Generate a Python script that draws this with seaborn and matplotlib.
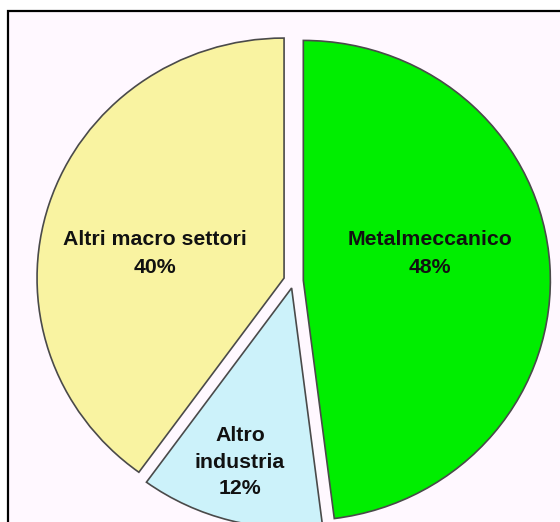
import matplotlib
matplotlib.use('Agg')
import matplotlib.pyplot as plt
import seaborn as sns
from matplotlib.patches import Rectangle

# data
sectors = ['Metalmeccanico', 'Altro\nindustria', 'Altri macro settori']
shares = [48, 12, 40]
colors = ['#00ee00', '#ccf2fa', '#f9f3a1']
explode = [0.04, 0.03, 0.04]

sns.set_theme(style='white')
plt.rcParams['font.family'] = ['Liberation Sans', 'DejaVu Sans']

fig = plt.figure(figsize=(5.6, 5.22), dpi=100)
fig.patch.set_facecolor('white')

# outer frame (cut by the right and bottom edges of the picture)
frame = Rectangle((8 / 560, -0.05), 1.2, (522 - 11) / 522 + 0.05,
                  transform=fig.transFigure, facecolor='#fff8ff',
                  edgecolor='black', linewidth=1.6, zorder=-1)
fig.add_artist(frame)

ax = fig.add_axes([0, 0, 1, 1])
ax.set_facecolor('none')

wedges, _ = ax.pie(shares, colors=colors, explode=explode, startangle=90,
                   counterclock=False,
                   wedgeprops=dict(edgecolor='#4a4a4a', linewidth=1.2))

ax.set_aspect('auto')
ax.set_xlim(-1.188, 1.079)
ax.set_ylim(-1.004, 1.171)
ax.axis('off')

# labels
label_pos = [(0.553, 0.113), (-0.217, -0.756), (-0.561, 0.116)]
spacing = [1.6, 1.5, 1.6]
for name, share, (x, y), ls in zip(sectors, shares, label_pos, spacing):
    ax.text(x, y, f'{name}\n{share}%', ha='center', va='center',
            fontsize=15.3, fontweight='bold', color='#111111',
            linespacing=ls)

fig.savefig('out.png', dpi=100)
